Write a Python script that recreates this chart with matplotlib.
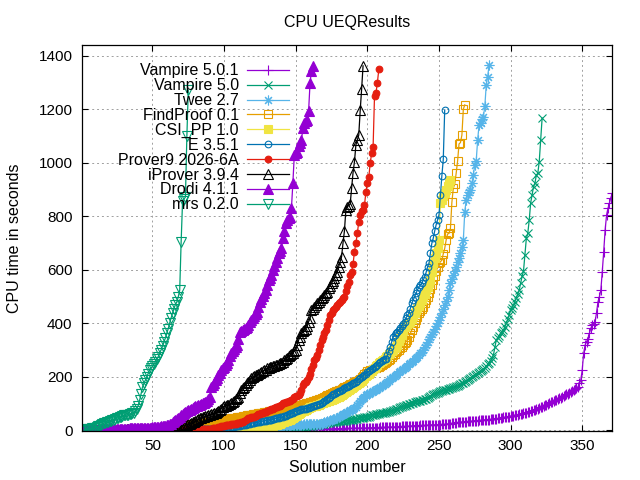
import matplotlib
matplotlib.use('Agg')
import matplotlib.pyplot as plt
import numpy as np

plt.rcParams['font.family'] = ['Liberation Sans', 'DejaVu Sans']

# sorted CPU times (s) of solved problems
vampire_501 = [
    0, 0, 0, 0, 0, 0, 0, 0, 0, 0, 0, 0, 0, 0, 0, 0, 0, 0, 0, 0, 0, 0, 0, 0, 0,
    0, 0, 0, 0, 0, 0, 0, 0, 0, 0, 0, 0, 0, 0, 0, 0, 0, 0, 0, 0, 0, 0, 0, 0, 0,
    0, 0, 0, 0, 0, 0, 0, 0, 0, 0, 0, 0, 0, 0, 0, 0, 0, 0, 0, 0, 0, 0, 0, 0, 0,
    1, 1, 1, 1, 1, 1, 1, 1, 1, 1, 1, 1, 1, 1, 1, 1, 1, 1, 1, 1, 1, 1, 1, 1, 1,
    1, 1, 1, 1, 1, 1, 1, 1, 1, 1, 1, 1, 1, 1, 1, 1, 1, 1, 1, 1, 1, 1, 1, 1, 1,
    2, 2, 2, 2, 2, 2, 2, 2, 2, 2, 2, 2, 2, 2, 2, 3, 3, 3, 3, 3, 3, 3, 3, 3, 3,
    3, 3, 3, 3, 3, 3, 3, 3, 3, 4, 4, 4, 4, 4, 4, 4, 4, 4, 5, 5,
    5, 5, 5, 5, 5, 5, 6, 6, 6, 6, 6, 6, 6, 7, 7, 7, 7, 7, 7, 7,
    7, 8, 8, 8, 8, 8, 8, 8, 8, 9, 9, 9, 9, 10, 10, 10, 10, 10, 11, 11,
    11, 11, 11, 11, 12, 12, 12, 12, 12, 13, 13, 13, 13, 14, 14, 14, 15, 15, 15, 16,
    16, 16, 17, 17, 17, 17, 18, 18, 18, 18, 19, 19, 19, 20, 20, 20, 20, 21, 21, 21,
    21, 22, 22, 22, 22, 23, 24, 25, 26, 27, 28, 28, 29, 30, 30, 31, 31, 32, 32, 33,
    33, 34, 34, 35, 35, 36, 36, 37, 37, 38, 38, 39, 39, 40, 40, 41, 41, 42, 42, 43,
    44, 45, 46, 47, 48, 49, 50, 51, 51, 52, 53, 54, 55, 56, 57, 59, 60, 62, 63, 65,
    66, 68, 69, 71, 73, 75, 77, 79, 81, 83, 85, 87, 90, 93, 95, 98, 101, 104, 106, 109,
    112, 114, 117, 120, 122, 125, 128, 131, 134, 137, 140, 143, 147, 151, 154, 158, 162, 175, 187, 225,
    287, 318, 330, 343, 362, 381, 393, 399, 406, 440, 480, 500, 524, 593, 668, 749, 805, 830, 850, 870,
    886,
]

vampire_50 = [
    0, 0, 0, 0, 0, 0, 0, 0, 0, 0, 0, 0, 0, 0, 0, 0, 0, 0, 0, 0, 0, 0, 0, 0, 0,
    0, 0, 0, 0, 0, 0, 0, 0, 0, 0, 0, 0, 0, 0, 0, 0, 0, 0, 0, 0, 0, 0, 0, 0, 0,
    0, 0, 0, 0, 0, 0, 0, 0, 0, 0, 0, 0, 0, 0, 0, 0, 0, 0, 0, 0, 0, 0, 0, 0, 0,
    0, 0, 0, 0, 0, 0, 0, 0, 0, 0, 0, 0, 0, 0, 0, 0, 0, 0, 0, 0, 0, 0, 0, 0, 0,
    0, 0, 0, 0, 0, 0, 0, 0, 0, 0, 1, 1, 1, 1, 1, 1, 1, 1, 1, 1,
    1, 1, 1, 1, 1, 1, 1, 1, 1, 1, 1, 1, 1, 1, 1, 1, 1, 1, 1, 1,
    1, 1, 2, 2, 3, 3, 4, 4, 5, 5, 6, 7, 8, 9, 10, 11, 12, 13, 14, 15,
    16, 17, 18, 19, 20, 21, 22, 23, 24, 25, 26, 27, 28, 29, 30, 31, 32, 32, 33, 34,
    34, 35, 35, 36, 36, 37, 37, 38, 39, 40, 41, 42, 43, 44, 45, 46, 47, 48, 49, 50,
    51, 53, 55, 56, 58, 60, 61, 62, 63, 64, 65, 66, 67, 68, 69, 71, 73, 75, 77, 79,
    81, 83, 85, 87, 89, 91, 93, 95, 97, 99, 100, 102, 104, 106, 108, 110, 111, 112, 113, 115,
    116, 120, 124, 128, 131, 134, 137, 139, 141, 143, 145, 147, 149, 150, 152, 154, 155, 157, 159, 161,
    162, 165, 167, 170, 172, 175, 178, 181, 184, 188, 191, 195, 199, 202, 206, 210, 213, 217, 221, 225,
    228, 234, 240, 246, 252, 260, 270, 281, 310, 337, 345, 354, 362, 368, 374, 387, 400, 415, 432, 449,
    459, 468, 481, 495, 510, 524, 550, 575, 595, 655, 718, 736, 786, 850, 880, 911, 924, 955, 961, 1005,
    1086, 1167,
]

twee_27 = [
    0, 0, 0, 0, 0, 0, 0, 0, 0, 0, 0, 0, 0, 0, 0, 0, 0, 0, 0, 0,
    0, 0, 0, 0, 0, 0, 0, 0, 0, 0, 1, 1, 1, 1, 1, 1, 1, 1, 1, 1,
    1, 1, 1, 1, 1, 1, 1, 1, 1, 1, 1, 1, 1, 1, 1, 1, 1, 1, 1, 1,
    1, 1, 1, 1, 1, 1, 1, 1, 1, 1, 2, 2, 2, 2, 2, 2, 2, 2, 2, 2,
    2, 2, 2, 2, 2, 2, 2, 2, 2, 2, 3, 3, 3, 3, 3, 3, 3, 3, 3, 3,
    3, 3, 3, 3, 3, 4, 4, 4, 4, 4, 4, 5, 5, 5, 5, 6, 6, 6, 6, 7,
    7, 7, 7, 8, 8, 8, 8, 9, 9, 9, 10, 10, 11, 11, 12, 12, 13, 13, 14, 14,
    15, 15, 16, 16, 17, 17, 18, 18, 19, 19, 20, 20, 21, 21, 21, 22, 22, 22, 23, 23,
    23, 24, 24, 24, 25, 25, 25, 25, 27, 29, 31, 33, 35, 37, 39, 41, 43, 45, 47, 50,
    53, 56, 59, 62, 65, 68, 71, 74, 77, 80, 84, 87, 94, 101, 108, 115, 122, 126, 130, 134,
    137, 140, 143, 146, 149, 152, 155, 158, 162, 166, 170, 172, 175, 180, 185, 190, 195, 200, 204, 208,
    212, 216, 220, 225, 229, 233, 238, 242, 246, 250, 255, 260, 265, 270, 274, 281, 288, 294, 300, 310,
    320, 330, 340, 349, 359, 369, 380, 390, 400, 412, 425, 437, 453, 468, 484, 499, 524, 549, 565, 580,
    596, 611, 628, 645, 662, 686, 711, 817, 861, 880, 890, 899, 924, 955, 992, 1008, 1086, 1142, 1148, 1163,
    1173, 1211, 1292, 1323, 1367,
]

findproof_01 = [
    0, 0, 0, 0, 0, 0, 0, 0, 0, 0, 0, 0, 0, 0, 0, 1, 1, 1, 1, 1,
    1, 1, 1, 1, 1, 1, 1, 1, 1, 1, 2, 2, 2, 2, 2, 2, 2, 2, 2, 2,
    3, 3, 3, 3, 3, 3, 4, 4, 4, 4, 5, 5, 5, 6, 6, 6, 7, 7, 8, 8,
    9, 10, 11, 12, 13, 14, 15, 16, 17, 17, 18, 19, 20, 20, 21, 22, 22, 23, 24, 24,
    25, 25, 26, 26, 27, 27, 28, 28, 29, 29, 30, 31, 31, 32, 33, 34, 35, 37, 38, 39,
    40, 41, 42, 43, 44, 45, 46, 47, 48, 49, 50, 51, 52, 53, 54, 55, 56, 57, 58, 59,
    60, 61, 62, 63, 64, 65, 66, 67, 68, 69, 70, 71, 72, 73, 74, 75, 76, 78, 79, 81,
    82, 83, 84, 85, 86, 87, 88, 89, 90, 91, 92, 94, 95, 96, 98, 99, 100, 102, 103, 105,
    106, 108, 110, 112, 114, 116, 118, 120, 122, 125, 127, 130, 133, 136, 139, 141, 144, 146, 148, 150,
    152, 155, 157, 160, 162, 165, 168, 171, 174, 177, 180, 183, 185, 187, 192, 198, 204, 210, 215, 220,
    223, 225, 227, 229, 231, 233, 235, 237, 240, 244, 248, 252, 256, 259, 262, 267, 272, 281, 286, 291,
    296, 300, 306, 312, 318, 325, 331, 337, 350, 362, 374, 387, 400, 412, 425, 437, 445, 453, 462, 474,
    487, 499, 512, 528, 545, 562, 578, 594, 609, 624, 630, 636, 660, 680, 711, 734, 736, 755, 852, 905,
    921, 961, 1007, 1071, 1076, 1104, 1201, 1217,
]

csi_pp_10 = [
    0, 0, 0, 0, 0, 0, 0, 0, 0, 0, 0, 0, 0, 0, 0, 0, 0, 0, 0, 0,
    0, 0, 0, 0, 0, 0, 0, 0, 0, 0, 0, 0, 0, 0, 0, 0, 0, 0, 0, 0,
    0, 0, 0, 0, 0, 0, 0, 0, 0, 0, 1, 1, 1, 1, 1, 1, 1, 1, 1, 1,
    1, 1, 1, 1, 1, 1, 1, 1, 1, 1, 1, 1, 1, 1, 1, 1, 1, 1, 1, 1,
    1, 1, 1, 1, 1, 2, 2, 2, 2, 2, 2, 2, 2, 2, 3, 3, 3, 3, 3, 3,
    3, 3, 3, 3, 3, 4, 4, 4, 4, 4, 4, 5, 5, 5, 5, 5, 5, 5, 5, 5,
    5, 5, 6, 6, 6, 6, 7, 8, 9, 10, 11, 12, 14, 16, 18, 19, 21, 23, 25, 27,
    29, 31, 33, 35, 37, 40, 43, 46, 49, 52, 56, 60, 64, 67, 70, 73, 76, 79, 82, 85,
    87, 89, 90, 92, 94, 96, 98, 100, 102, 104, 106, 108, 110, 112, 114, 116, 118, 120, 123, 125,
    128, 132, 136, 140, 143, 146, 150, 154, 158, 161, 165, 168, 172, 175, 180, 185, 190, 196, 201, 206,
    212, 217, 223, 228, 234, 240, 245, 250, 255, 258, 262, 267, 272, 278, 285, 290, 296, 301, 307, 313,
    320, 332, 345, 358, 372, 387, 392, 396, 400, 405, 417, 428, 440, 449, 457, 466, 474, 486, 499, 511,
    524, 537, 550, 562, 593, 624, 643, 662, 680, 711, 849, 862, 875, 888, 900, 912, 925, 936,
]

e_351 = [
    0, 0, 0, 0, 0, 0, 0, 0, 0, 0, 0, 0, 0, 0, 0, 0, 0, 0, 0, 0,
    0, 0, 0, 0, 0, 0, 0, 0, 0, 0, 1, 1, 1, 1, 1, 1, 1, 1, 1, 1,
    1, 1, 1, 1, 1, 1, 1, 1, 1, 1, 1, 1, 1, 1, 1, 2, 2, 2, 2, 2,
    2, 2, 2, 2, 2, 2, 2, 2, 2, 2, 3, 3, 3, 3, 3, 3, 3, 3, 3, 3,
    3, 3, 3, 3, 4, 4, 4, 4, 4, 4, 4, 5, 5, 5, 6, 6, 7, 7, 8, 8,
    9, 9, 10, 10, 11, 12, 13, 14, 15, 16, 17, 18, 19, 20, 21, 22, 24, 25, 26, 27,
    28, 29, 30, 31, 32, 33, 34, 35, 36, 37, 38, 39, 40, 41, 42, 44, 46, 47, 48, 49,
    50, 52, 54, 57, 59, 62, 64, 66, 68, 70, 73, 75, 76, 78, 79, 80, 81, 83, 84, 85,
    87, 89, 91, 93, 95, 97, 99, 100, 104, 109, 113, 117, 122, 126, 131, 134, 137, 140, 143, 146,
    148, 150, 153, 156, 160, 163, 166, 169, 172, 175, 178, 181, 185, 190, 195, 199, 204, 208, 212, 216,
    220, 224, 228, 232, 236, 240, 245, 250, 254, 258, 262, 266, 268, 281, 296, 312, 330, 349, 355, 362,
    368, 374, 381, 390, 398, 406, 420, 430, 437, 455, 474, 487, 499, 512, 525, 537, 543, 549, 562, 574,
    590, 610, 624, 662, 699, 718, 745, 768, 786, 805, 880, 951, 1013, 1198,
]

prover9 = [
    0, 0, 0, 0, 0, 0, 0, 0, 0, 0, 0, 0, 0, 0, 0, 0, 0, 0, 1, 1,
    1, 1, 1, 1, 1, 1, 1, 1, 1, 1, 1, 1, 1, 1, 1, 1, 1, 1, 2, 2,
    2, 2, 2, 2, 2, 2, 2, 2, 2, 2, 2, 2, 2, 2, 2, 2, 2, 3, 3, 3,
    3, 3, 3, 3, 3, 3, 3, 3, 3, 3, 3, 3, 3, 3, 3, 3, 3, 3, 3, 3,
    3, 4, 4, 4, 4, 4, 5, 5, 5, 6, 6, 7, 8, 9, 10, 11, 13, 14, 16, 17,
    18, 19, 20, 21, 22, 23, 24, 25, 26, 27, 28, 30, 32, 35, 38, 41, 44, 46, 48, 49,
    50, 53, 56, 59, 62, 64, 66, 68, 69, 72, 74, 76, 78, 80, 83, 86, 88, 90, 92, 95,
    100, 102, 104, 106, 108, 110, 112, 118, 124, 127, 129, 131, 140, 150, 168, 175, 182, 187, 200, 212,
    230, 245, 262, 271, 280, 300, 318, 337, 349, 362, 374, 393, 412, 430, 440, 449, 455, 461, 467, 474,
    480, 487, 493, 499, 520, 540, 555, 580, 593, 621, 668, 700, 736, 780, 805, 820, 824, 842, 892, 926,
    946, 1000, 1036, 1058, 1251, 1261, 1300, 1350,
]

iprover = [
    0, 0, 0, 0, 0, 0, 1, 1, 1, 1, 1, 1, 1, 1, 1, 1, 1, 1, 2, 2,
    2, 2, 2, 2, 2, 2, 2, 2, 2, 2, 2, 3, 3, 3, 3, 3, 3, 3, 3, 3,
    4, 4, 4, 4, 4, 4, 4, 4, 5, 5, 5, 5, 6, 6, 6, 7, 7, 8, 8, 9,
    9, 10, 11, 12, 13, 14, 15, 16, 17, 18, 18, 19, 19, 21, 23, 25, 27, 29, 32, 35,
    38, 41, 44, 46, 48, 50, 52, 54, 56, 58, 60, 62, 64, 66, 69, 72, 76, 80, 87, 90,
    92, 94, 96, 98, 100, 105, 110, 116, 120, 125, 138, 150, 156, 163, 169, 175, 181, 188, 194, 198,
    201, 205, 208, 212, 215, 218, 221, 224, 227, 231, 233, 235, 237, 239, 241, 243, 245, 248, 250, 253,
    256, 261, 266, 271, 276, 281, 286, 290, 295, 300, 318, 337, 349, 362, 370, 374, 380, 390, 406, 418,
    449, 455, 461, 467, 474, 480, 486, 493, 499, 505, 512, 518, 533, 541, 549, 560, 571, 582, 593, 611,
    630, 649, 700, 746, 824, 836, 840, 846, 905, 963, 1005, 1067, 1086, 1104, 1196, 1276, 1363,
]

drodi = [
    0, 0, 0, 1, 1, 1, 1, 2, 2, 2, 2, 2, 3, 3, 3, 3, 3, 4, 4, 4,
    4, 4, 4, 5, 5, 5, 5, 5, 6, 6, 6, 6, 6, 7, 7, 7, 7, 7, 8, 8,
    8, 8, 9, 9, 9, 9, 10, 10, 10, 11, 11, 11, 12, 12, 13, 14, 15, 16, 17, 19,
    21, 23, 25, 29, 33, 37, 41, 45, 50, 55, 60, 65, 69, 72, 75, 77, 80, 83, 86, 89,
    91, 94, 96, 98, 100, 102, 106, 110, 115, 125, 162, 170, 178, 187, 196, 205, 215, 225, 231, 238,
    244, 250, 263, 277, 290, 297, 304, 311, 318, 343, 368, 372, 376, 380, 384, 387, 395, 404, 412, 420,
    428, 435, 443, 462, 480, 491, 502, 513, 524, 543, 562, 570, 580, 599, 614, 628, 643, 662, 670, 680,
    718, 746, 774, 786, 792, 799, 830, 924, 1030, 1036, 1042, 1063, 1075, 1086, 1129, 1149, 1155, 1161, 1195, 1300,
    1345, 1363,
]

mrs = [
    0, 1, 2, 3, 4, 5, 6, 7, 8, 10, 12, 14, 17, 20, 23, 26, 28, 30, 32, 34,
    36, 38, 40, 42, 45, 47, 49, 51, 53, 55, 56, 57, 58, 60, 62, 64, 66, 70, 80, 92,
    112, 135, 161, 175, 187, 200, 212, 225, 232, 240, 248, 255, 265, 275, 290, 300, 315, 330, 345, 363,
    380, 401, 420, 438, 455, 470, 480, 499, 524, 704, 858, 865, 872, 1100, 1273,
]

labels = ['Vampire 5.0.1', 'Vampire 5.0', 'Twee 2.7', 'FindProof 0.1', 'CSI_PP 1.0',
          'E 3.5.1', 'Prover9 2026-6A', 'iProver 3.9.4', 'Drodi 4.1.1', 'mrs 0.2.0']
data = [vampire_501, vampire_50, twee_27, findproof_01, csi_pp_10,
        e_351, prover9, iprover, drodi, mrs]

# gnuplot default linetypes / point types
colors = ['#9400d3', '#009e73', '#56b4e9', '#e69f00', '#f0e442',
          '#0072b2', '#e51e10', '#000000', '#9400d3', '#009e73']
markers = ['+', 'x', (8, 2, 0), 's', 's', 'o', 'o', '^', '^', 'v']
sizes = [7, 6, 7, 5.5, 5.5, 4.8, 4.8, 6.5, 6.5, 6.5]
filled = [True, True, True, False, True, False, True, False, True, False]

fig = plt.figure(figsize=(6.4, 4.8), dpi=100)
ax = fig.add_axes([82.3 / 640, 1 - 431 / 480, 530 / 640, 386 / 480])

for lab, vals, c, m, s, f in zip(labels, data, colors, markers, sizes, filled):
    x = np.arange(1, len(vals) + 1)
    ax.plot(x, vals, color=c, lw=0.9, marker=m, ms=s, mew=0.8,
            mfc=c if f else 'none', mec=c, label=lab)

ax.set_xlim(1, 371)
ax.set_ylim(-3, 1441)
ax.set_xticks([50, 100, 150, 200, 250, 300, 350])
ax.set_yticks([0, 200, 400, 600, 800, 1000, 1200, 1400])
ax.grid(True, color='#a0a0a0', ls=(0, (2, 3)), lw=0.7)
ax.set_axisbelow(True)
ax.tick_params(direction='in', top=True, right=True, length=4.5, width=0.8,
               labelsize=11, pad=6)
ax.tick_params(axis='y', pad=7)
for sp in ax.spines.values():
    sp.set_linewidth(0.9)

ax.set_title('CPU UEQResults', fontsize=11.5, pad=13)
ax.set_xlabel('Solution number', fontsize=11.5, labelpad=5)
ax.set_ylabel('CPU time in seconds', fontsize=11.5, labelpad=12)

leg = ax.legend(loc='upper right', bbox_to_anchor=(289 / 640, 1 - 63.5 / 480),
                bbox_transform=fig.transFigure, frameon=False, fontsize=11.5,
                markerfirst=False, numpoints=1, handlelength=2.6,
                handletextpad=0.55, labelspacing=-0.01, borderpad=0,
                borderaxespad=0)

fig.savefig('out.png', dpi=100)
